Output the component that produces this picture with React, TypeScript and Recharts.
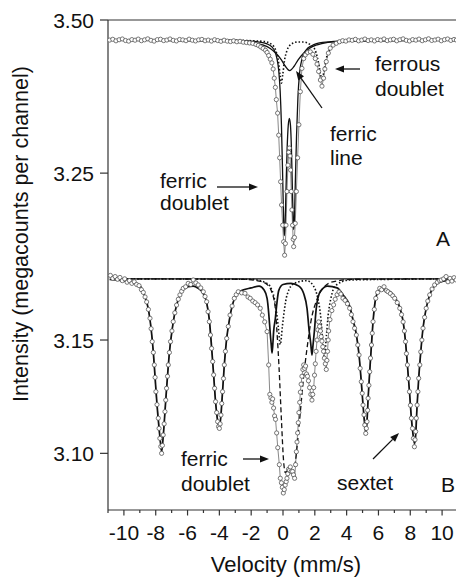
import React from 'react';
import { ComposedChart, Line, XAxis, YAxis, ReferenceLine } from 'recharts';

type Pt = [number, number];

// Panel A: measured spectrum (velocity mm/s, megacounts) and fitted components
const spectrumA: Pt[] = [
  [-10.9, 3.4672], [-10.7, 3.4685], [-10.5, 3.466], [-10.3, 3.4678], [-10.1, 3.469],
  [-9.9, 3.4665], [-9.7, 3.4655], [-9.5, 3.468], [-9.3, 3.467], [-9.1, 3.4688],
  [-8.9, 3.4662], [-8.7, 3.4676], [-8.5, 3.4692], [-8.3, 3.4668], [-8.1, 3.4655],
  [-7.9, 3.4679], [-7.7, 3.4686], [-7.5, 3.4664], [-7.3, 3.4673], [-7.1, 3.469],
  [-6.9, 3.4668], [-6.7, 3.4658], [-6.5, 3.4682], [-6.3, 3.4675], [-6.1, 3.4662],
  [-5.9, 3.4687], [-5.7, 3.467], [-5.5, 3.4658], [-5.3, 3.4676], [-5.1, 3.4683],
  [-4.9, 3.4661], [-4.7, 3.4672], [-4.5, 3.4656], [-4.3, 3.4678], [-4.1, 3.4664],
  [-3.9, 3.4652], [-3.7, 3.467], [-3.5, 3.4655], [-3.3, 3.4648], [-3.1, 3.466],
  [-2.9, 3.4645], [-2.7, 3.4652], [-2.5, 3.4638], [-2.3, 3.4632], [-2.1, 3.4625],
  [-1.9, 3.4618], [-1.7, 3.46], [-1.55, 3.4585], [-1.4, 3.456], [-1.25, 3.4535],
  [-1.1, 3.4505], [-1.0, 3.447], [-0.9, 3.442], [-0.8, 3.436], [-0.7, 3.43],
  [-0.62, 3.42], [-0.55, 3.405], [-0.48, 3.39], [-0.42, 3.37], [-0.34, 3.348],
  [-0.27, 3.312], [-0.21, 3.275], [-0.15, 3.236], [-0.09, 3.198], [-0.02, 3.165],
  [0.04, 3.138], [0.1, 3.116], [0.15, 3.135], [0.19, 3.165], [0.25, 3.22],
  [0.31, 3.263], [0.36, 3.284], [0.4, 3.291], [0.44, 3.278], [0.48, 3.255],
  [0.52, 3.22], [0.56, 3.19], [0.6, 3.165], [0.64, 3.142], [0.67, 3.13],
  [0.72, 3.145], [0.77, 3.168], [0.84, 3.22], [0.92, 3.275], [1.0, 3.329],
  [1.09, 3.383], [1.19, 3.421], [1.3, 3.437], [1.4, 3.443], [1.55, 3.447],
  [1.72, 3.448], [1.88, 3.444], [2.03, 3.437], [2.14, 3.428], [2.24, 3.416],
  [2.35, 3.402], [2.45, 3.392], [2.55, 3.405], [2.63, 3.42], [2.72, 3.432],
  [2.85, 3.446], [2.97, 3.454], [3.15, 3.459], [3.35, 3.462], [3.55, 3.4645],
  [3.75, 3.4662], [3.95, 3.4655], [4.15, 3.4675], [4.35, 3.4668], [4.55, 3.4684],
  [4.75, 3.466], [4.95, 3.4672], [5.15, 3.4689], [5.35, 3.4664], [5.55, 3.4676],
  [5.75, 3.4658], [5.95, 3.4681], [6.15, 3.467], [6.35, 3.469], [6.55, 3.4663],
  [6.75, 3.4675], [6.95, 3.4686], [7.15, 3.466], [7.35, 3.4678], [7.55, 3.4692],
  [7.75, 3.4668], [7.95, 3.4657], [8.15, 3.468], [8.35, 3.4671], [8.55, 3.4688],
  [8.75, 3.4662], [8.95, 3.4677], [9.15, 3.4693], [9.35, 3.4666], [9.55, 3.4674],
  [9.75, 3.4687], [9.95, 3.4661], [10.15, 3.4679], [10.35, 3.469], [10.55, 3.4667],
  [10.75, 3.4682], [10.9, 3.4672],
];

const ferricDoubletA: Pt[] = [
  [-10.9, 3.467], [-3.0, 3.4665], [-1.5, 3.464], [-1.0, 3.461], [-0.7, 3.456],
  [-0.5, 3.448], [-0.38, 3.437], [-0.27, 3.418], [-0.18, 3.385], [-0.1, 3.33],
  [-0.03, 3.255], [0.03, 3.185], [0.08, 3.148], [0.13, 3.165], [0.19, 3.225],
  [0.26, 3.29], [0.33, 3.328], [0.4, 3.3395], [0.47, 3.328], [0.53, 3.29],
  [0.59, 3.225], [0.64, 3.175], [0.67, 3.158], [0.71, 3.172], [0.77, 3.23],
  [0.85, 3.31], [0.94, 3.375], [1.05, 3.415], [1.2, 3.437], [1.45, 3.451],
  [1.8, 3.458], [2.5, 3.4635], [4.0, 3.466], [10.9, 3.467],
];

const ferricLineA: Pt[] = [
  [-10.9, 3.467], [-3.0, 3.4655], [-2.0, 3.4635], [-1.3, 3.4595], [-0.8, 3.4535],
  [-0.4, 3.4445], [-0.1, 3.435], [0.15, 3.4245], [0.42, 3.4175], [0.7, 3.4245],
  [0.95, 3.435], [1.25, 3.4445], [1.65, 3.4535], [2.15, 3.4595], [2.85, 3.4635],
  [3.85, 3.4655], [10.9, 3.467],
];

const ferrousDoubletA: Pt[] = [
  [-10.9, 3.467], [-3.0, 3.4668], [-1.2, 3.465], [-0.7, 3.46], [-0.45, 3.45],
  [-0.3, 3.435], [-0.18, 3.41], [-0.1, 3.397], [-0.02, 3.41], [0.1, 3.435],
  [0.25, 3.45], [0.5, 3.46], [0.9, 3.464], [1.3, 3.464], [1.7, 3.46],
  [2.0, 3.452], [2.15, 3.44], [2.27, 3.425], [2.37, 3.41], [2.45, 3.402],
  [2.53, 3.41], [2.63, 3.425], [2.75, 3.44], [2.95, 3.452], [3.3, 3.461],
  [4.0, 3.465], [6.0, 3.4668], [10.9, 3.467],
];

// Panel B: measured spectrum and fitted components
const spectrumB: Pt[] = [
  [-10.85, 3.1785], [-10.7, 3.1772], [-10.55, 3.178], [-10.4, 3.1768], [-10.25, 3.1776],
  [-10.1, 3.1762], [-9.95, 3.177], [-9.8, 3.1755], [-9.65, 3.1762], [-9.5, 3.175],
  [-9.35, 3.1757], [-9.2, 3.1745], [-9.05, 3.174], [-8.9, 3.1722], [-8.78, 3.171],
  [-8.67, 3.169], [-8.57, 3.1668], [-8.46, 3.1635], [-8.36, 3.1596], [-8.29, 3.155],
  [-8.22, 3.1493], [-8.15, 3.1445], [-8.09, 3.139], [-8.04, 3.1335], [-7.99, 3.1272],
  [-7.92, 3.1215], [-7.84, 3.1155], [-7.79, 3.111], [-7.74, 3.1066], [-7.68, 3.103],
  [-7.63, 3.1], [-7.58, 3.1035], [-7.53, 3.1081], [-7.47, 3.113], [-7.42, 3.1184],
  [-7.37, 3.1235], [-7.32, 3.1287], [-7.26, 3.134], [-7.21, 3.139], [-7.14, 3.1445],
  [-7.07, 3.1493], [-6.98, 3.154], [-6.9, 3.1581], [-6.8, 3.162], [-6.69, 3.1654],
  [-6.58, 3.168], [-6.48, 3.1699], [-6.37, 3.1715], [-6.27, 3.1728], [-6.12, 3.1735],
  [-5.96, 3.175], [-5.8, 3.1745], [-5.64, 3.1765], [-5.48, 3.1752], [-5.33, 3.1743],
  [-5.17, 3.173], [-5.01, 3.1713], [-4.9, 3.1692], [-4.8, 3.1669], [-4.71, 3.1625],
  [-4.63, 3.1581], [-4.56, 3.1522], [-4.49, 3.1463], [-4.42, 3.1405], [-4.36, 3.1346],
  [-4.3, 3.1287], [-4.24, 3.1228], [-4.17, 3.118], [-4.11, 3.114], [-4.05, 3.1118],
  [-4.0, 3.111], [-3.95, 3.113], [-3.9, 3.1169], [-3.85, 3.122], [-3.8, 3.1272],
  [-3.74, 3.133], [-3.69, 3.139], [-3.62, 3.145], [-3.54, 3.1507], [-3.44, 3.156],
  [-3.33, 3.161], [-3.2, 3.165], [-3.06, 3.1684], [-2.94, 3.17], [-2.81, 3.1713],
  [-2.6, 3.1708], [-2.39, 3.1706], [-2.2, 3.169], [-2.06, 3.1684], [-1.9, 3.1672],
  [-1.75, 3.1665], [-1.6, 3.1655], [-1.43, 3.164], [-1.3, 3.161], [-1.15, 3.158],
  [-1.0, 3.1537], [-0.9, 3.139], [-0.83, 3.126], [-0.76, 3.1245], [-0.7, 3.1225],
  [-0.65, 3.124], [-0.59, 3.12], [-0.53, 3.1165], [-0.47, 3.115], [-0.4, 3.109],
  [-0.33, 3.1025], [-0.23, 3.095], [-0.17, 3.089], [-0.1, 3.087], [-0.04, 3.085],
  [0.02, 3.0825], [0.08, 3.084], [0.14, 3.086], [0.2, 3.0875], [0.25, 3.089],
  [0.3, 3.091], [0.35, 3.093], [0.41, 3.0925], [0.46, 3.094], [0.52, 3.092],
  [0.6, 3.092], [0.66, 3.0905], [0.73, 3.089], [0.79, 3.095], [0.84, 3.1007],
  [0.88, 3.105], [0.92, 3.109], [0.96, 3.1135], [1.0, 3.118], [1.05, 3.1225],
  [1.09, 3.127], [1.14, 3.1305], [1.19, 3.134], [1.25, 3.137], [1.3, 3.139],
  [1.36, 3.1375], [1.42, 3.1385], [1.48, 3.135], [1.54, 3.134], [1.6, 3.132],
  [1.67, 3.129], [1.75, 3.126], [1.82, 3.1235], [1.87, 3.126], [1.93, 3.129],
  [1.98, 3.1345], [2.03, 3.1395], [2.08, 3.145], [2.14, 3.15], [2.19, 3.1545],
  [2.24, 3.158], [2.3, 3.156], [2.35, 3.154], [2.4, 3.1515], [2.45, 3.1495],
  [2.5, 3.147], [2.55, 3.145], [2.6, 3.142], [2.66, 3.1395], [2.72, 3.137],
  [2.76, 3.141], [2.8, 3.145], [2.84, 3.15], [2.87, 3.154], [2.95, 3.159],
  [3.07, 3.163], [3.18, 3.1655], [3.28, 3.168], [3.4, 3.17], [3.52, 3.1712],
  [3.64, 3.1703], [3.77, 3.1684], [3.9, 3.1675], [4.05, 3.166], [4.19, 3.164],
  [4.3, 3.1612], [4.4, 3.1581], [4.5, 3.1552], [4.61, 3.1522], [4.7, 3.1478],
  [4.78, 3.1434], [4.85, 3.1375], [4.92, 3.1316], [4.98, 3.1265], [5.03, 3.1213],
  [5.09, 3.117], [5.14, 3.1125], [5.2, 3.1088], [5.24, 3.111], [5.28, 3.114],
  [5.32, 3.119], [5.35, 3.1243], [5.4, 3.13], [5.45, 3.136], [5.5, 3.142],
  [5.56, 3.1478], [5.61, 3.153], [5.66, 3.1581], [5.74, 3.1635], [5.83, 3.1684],
  [5.95, 3.171], [6.08, 3.1728], [6.2, 3.1722], [6.35, 3.1735], [6.5, 3.1718],
  [6.6, 3.1713], [6.75, 3.1705], [6.9, 3.1695], [7.02, 3.1684], [7.18, 3.1665],
  [7.34, 3.164], [7.45, 3.1612], [7.55, 3.158], [7.63, 3.154], [7.7, 3.1493],
  [7.76, 3.144], [7.82, 3.139], [7.88, 3.133], [7.95, 3.1272], [8.01, 3.1212],
  [8.07, 3.1155], [8.14, 3.111], [8.2, 3.1066], [8.26, 3.1029], [8.3, 3.106],
  [8.34, 3.1096], [8.38, 3.1155], [8.43, 3.1213], [8.48, 3.1272], [8.53, 3.1331],
  [8.6, 3.139], [8.66, 3.1448], [8.73, 3.15], [8.8, 3.1552], [8.9, 3.16],
  [9.0, 3.164], [9.1, 3.1672], [9.22, 3.1699], [9.37, 3.1725], [9.53, 3.1743],
  [9.7, 3.1755], [9.85, 3.1762], [9.95, 3.1765], [10.1, 3.177], [10.25, 3.178],
  [10.37, 3.1757], [10.5, 3.1772], [10.62, 3.176], [10.75, 3.1775], [10.88, 3.1765],
];

const sextetB: Pt[] = [
  [-10.9, 3.1768], [-9.5, 3.1755], [-9.0, 3.174], [-8.67, 3.169], [-8.46, 3.1635],
  [-8.29, 3.155], [-8.15, 3.1445], [-8.04, 3.1335], [-7.92, 3.1215], [-7.79, 3.111],
  [-7.68, 3.1035], [-7.63, 3.101], [-7.58, 3.1035], [-7.47, 3.113], [-7.37, 3.1235],
  [-7.26, 3.134], [-7.14, 3.1445], [-6.98, 3.154], [-6.8, 3.162], [-6.58, 3.168],
  [-6.3, 3.1718], [-5.96, 3.1735], [-5.64, 3.1738], [-5.33, 3.1728], [-5.01, 3.1705],
  [-4.8, 3.1665], [-4.63, 3.159], [-4.49, 3.147], [-4.36, 3.1346], [-4.24, 3.1228],
  [-4.11, 3.1145], [-4.0, 3.1115], [-3.9, 3.1169], [-3.8, 3.1272], [-3.69, 3.139],
  [-3.54, 3.1507], [-3.33, 3.1605], [-3.06, 3.168], [-2.6, 3.1718], [-2.0, 3.173],
  [-1.5, 3.1738], [-1.2, 3.1722], [-1.0, 3.1684], [-0.9, 3.162], [-0.84, 3.1566],
  [-0.78, 3.151], [-0.74, 3.148], [-0.69, 3.1443], [-0.64, 3.148], [-0.59, 3.1537],
  [-0.48, 3.1596], [-0.38, 3.1665], [-0.27, 3.1718], [0.0, 3.1745], [0.5, 3.175],
  [1.0, 3.1738], [1.3, 3.1705], [1.51, 3.164], [1.65, 3.1537], [1.75, 3.148],
  [1.82, 3.1434], [1.89, 3.148], [1.97, 3.1537], [2.09, 3.164], [2.35, 3.1715],
  [2.8, 3.1738], [3.4, 3.173], [3.77, 3.17], [4.19, 3.165], [4.4, 3.159],
  [4.61, 3.1525], [4.78, 3.1434], [4.92, 3.1316], [5.03, 3.1213], [5.14, 3.1125],
  [5.2, 3.1095], [5.28, 3.114], [5.35, 3.1243], [5.45, 3.136], [5.56, 3.1478],
  [5.66, 3.1581], [5.83, 3.1684], [6.08, 3.1722], [6.6, 3.1718], [7.02, 3.169],
  [7.34, 3.1645], [7.55, 3.1582], [7.7, 3.1493], [7.82, 3.139], [7.95, 3.1272],
  [8.07, 3.1155], [8.2, 3.107], [8.28, 3.1045], [8.34, 3.108], [8.43, 3.1213],
  [8.53, 3.1331], [8.66, 3.1448], [8.8, 3.1552], [9.0, 3.164], [9.22, 3.1699],
  [9.53, 3.174], [10.0, 3.1758], [10.9, 3.1766],
];

const ferricDoubletB: Pt[] = [
  [-10.7, 3.177], [-2.5, 3.1768], [-1.5, 3.176], [-1.0, 3.1745], [-0.7, 3.171],
  [-0.5, 3.165], [-0.38, 3.1537], [-0.25, 3.138], [-0.1, 3.115], [0.04, 3.0963],
  [0.15, 3.0915], [0.3, 3.0925], [0.45, 3.0935], [0.6, 3.0925], [0.75, 3.095],
  [0.9, 3.104], [1.1, 3.119], [1.3, 3.134], [1.51, 3.1463], [1.75, 3.158],
  [2.14, 3.168], [2.6, 3.1735], [3.2, 3.1758], [4.5, 3.1768], [10.9, 3.177],
];

const ferrousDoubletB: Pt[] = [
  [-10.7, 3.177], [-2.0, 3.1768], [-1.0, 3.175], [-0.6, 3.17], [-0.42, 3.163],
  [-0.3, 3.156], [-0.17, 3.148], [-0.04, 3.156], [0.08, 3.163], [0.26, 3.17],
  [0.7, 3.175], [1.5, 3.1762], [1.9, 3.174], [2.2, 3.168], [2.36, 3.161],
  [2.47, 3.152], [2.6, 3.143], [2.73, 3.152], [2.84, 3.161], [3.0, 3.168],
  [3.3, 3.174], [4.2, 3.1765], [10.9, 3.177],
];

const baselineB = 3.177;

const velocityTicks = [
  -11, -10, -9, -8, -7, -6, -5, -4, -3, -2, -1, 0, 1, 2, 3, 4, 5, 6, 7, 8, 9, 10, 11,
];
const intensityTicksA = [3.25, 3.5];
const intensityTicksB = [3.1, 3.15];

const W = 470;
const H = 577;
const RIGHT = 12;
const INK = '#111';
const AXIS = '#333';
const FONT = "'Liberation Sans', Arial, Helvetica, sans-serif";
const LABEL_SIZE = 21;

const rows = (pts: Pt[]) => pts.map(([v, I]) => ({ v, I }));

const dataDot = { r: 2.1, stroke: '#555', strokeWidth: 0.8, fill: '#fff' };

function IntensityTick({ x, y, payload }: any) {
  return (
    <text x={x} y={y} dy="0.36em" textAnchor="end" fontSize={LABEL_SIZE} fill={INK} fontFamily={FONT}>
      {Number(payload.value).toFixed(2)}
    </text>
  );
}

function VelocityTick({ x, y, payload }: any) {
  const v = payload.value;
  const major = v % 2 === 0;
  return (
    <g>
      <line x1={x} x2={x} y1={y} y2={y + (major ? 5.5 : 3)} stroke={AXIS} strokeWidth={1.2} />
      {major && (
        <text x={x} y={y + 15} dy="0.71em" textAnchor="middle" fontSize={LABEL_SIZE} fill={INK} fontFamily={FONT}>
          {v}
        </text>
      )}
    </g>
  );
}

function Arrow({ x1, y1, x2, y2 }: { x1: number; y1: number; x2: number; y2: number }) {
  const a = Math.atan2(y2 - y1, x2 - x1);
  const len = 9;
  const half = 3.5;
  const bx = x2 - len * Math.cos(a);
  const by = y2 - len * Math.sin(a);
  const p1 = `${bx + half * Math.sin(a)},${by - half * Math.cos(a)}`;
  const p2 = `${bx - half * Math.sin(a)},${by + half * Math.cos(a)}`;
  return (
    <g>
      <line x1={x1} y1={y1} x2={bx} y2={by} stroke={INK} strokeWidth={1.3} />
      <polygon points={`${x2},${y2} ${p1} ${p2}`} fill={INK} />
    </g>
  );
}

const layer: React.CSSProperties = { position: 'absolute', left: 0, top: 0 };

export default function App() {
  const yAxisLine = { stroke: AXIS, strokeWidth: 1.2 };
  const txt = { fontSize: LABEL_SIZE, fill: INK, fontFamily: FONT } as const;
  return (
    <div
      style={{
        position: 'absolute',
        left: 0,
        top: 0,
        width: 456,
        height: 577,
        overflow: 'hidden',
        background: '#fff',
        fontFamily: FONT,
      }}
    >
      {/* panel A */}
      <div style={layer}>
        <ComposedChart width={W} height={H} margin={{ top: 20, right: RIGHT, bottom: 312, left: 0 }}>
          <XAxis type="number" dataKey="v" domain={[-11, 11]} hide allowDataOverflow />
          <YAxis
            type="number"
            domain={[3.1, 3.5]}
            ticks={intensityTicksA}
            allowDataOverflow
            width={108}
            tickSize={8}
            tickMargin={6}
            tick={IntensityTick}
            axisLine={yAxisLine}
            tickLine={yAxisLine}
          />
          <ReferenceLine y={3.5} stroke={AXIS} strokeWidth={1.2} />
          <Line
            data={rows(spectrumA)}
            dataKey="I"
            type="linear"
            stroke="#555"
            strokeWidth={0.7}
            dot={dataDot}
            activeDot={false}
            isAnimationActive={false}
          />
          <Line data={rows(ferricLineA)} dataKey="I" type="monotone" stroke={INK} strokeWidth={1.3} dot={false} isAnimationActive={false} />
          <Line data={rows(ferrousDoubletA)} dataKey="I" type="monotone" stroke={INK} strokeWidth={1.6} strokeDasharray="1.5 2" dot={false} isAnimationActive={false} />
          <Line data={rows(ferricDoubletA)} dataKey="I" type="monotone" stroke={INK} strokeWidth={1.3} dot={false} isAnimationActive={false} />
        </ComposedChart>
      </div>

      {/* panel B */}
      <div style={layer}>
        <ComposedChart width={W} height={H} margin={{ top: 265, right: RIGHT, bottom: 0, left: 0 }}>
          <XAxis
            type="number"
            dataKey="v"
            domain={[-11, 11]}
            allowDataOverflow
            ticks={velocityTicks}
            interval={0}
            height={67}
            tickSize={0}
            tickMargin={0}
            tickLine={false}
            tick={VelocityTick}
            axisLine={yAxisLine}
          />
          <YAxis
            type="number"
            domain={[3.075, 3.1831]}
            ticks={intensityTicksB}
            allowDataOverflow
            width={108}
            tickSize={8}
            tickMargin={6}
            tick={IntensityTick}
            axisLine={yAxisLine}
            tickLine={yAxisLine}
          />
          <ReferenceLine
            segment={[{ x: -10.7, y: baselineB }, { x: 11, y: baselineB }]}
            stroke={INK}
            strokeWidth={1.3}
          />
          <Line
            data={rows(spectrumB)}
            dataKey="I"
            type="linear"
            stroke="#555"
            strokeWidth={0.7}
            dot={dataDot}
            activeDot={false}
            isAnimationActive={false}
          />
          <Line data={rows(ferricDoubletB)} dataKey="I" type="monotone" stroke={INK} strokeWidth={1.3} strokeDasharray="5 3" dot={false} isAnimationActive={false} />
          <Line data={rows(ferrousDoubletB)} dataKey="I" type="monotone" stroke={INK} strokeWidth={1.6} strokeDasharray="1.5 2" dot={false} isAnimationActive={false} />
          <Line data={rows(sextetB)} dataKey="I" type="monotone" stroke={INK} strokeWidth={1.7} dot={false} isAnimationActive={false} />
        </ComposedChart>
      </div>

      {/* titles and annotations */}
      <svg width={456} height={577} style={{ ...layer, pointerEvents: 'none' }}>
        <text transform="translate(28,234) rotate(-90)" textAnchor="middle" fontSize={21.5} fill={INK} fontFamily={FONT}>
          Intensity (megacounts per channel)
        </text>
        <text x={286} y={572} textAnchor="middle" fontSize={22} fill={INK} fontFamily={FONT}>
          Velocity (mm/s)
        </text>

        <text x={375} y={71} {...txt}>ferrous</text>
        <text x={375} y={96} {...txt}>doublet</text>
        <Arrow x1={360} y1={69} x2={335} y2={69} />

        <text x={330} y={141} {...txt}>ferric</text>
        <text x={330} y={165} {...txt}>line</text>
        <Arrow x1={322} y1={108} x2={296} y2={71} />

        <text x={160} y={188} {...txt}>ferric</text>
        <text x={160} y={210} {...txt}>doublet</text>
        <Arrow x1={217} y1={187} x2={258} y2={187} />

        <text x={436} y={246} {...txt}>A</text>

        <text x={181} y={466} {...txt}>ferric</text>
        <text x={181} y={491} {...txt}>doublet</text>
        <Arrow x1={243} y1={459} x2={269} y2={459} />

        <text x={337} y={490} {...txt}>sextet</text>
        <Arrow x1={373} y1={459} x2={399} y2={433} />

        <text x={441} y={492} {...txt}>B</text>
      </svg>
    </div>
  );
}
